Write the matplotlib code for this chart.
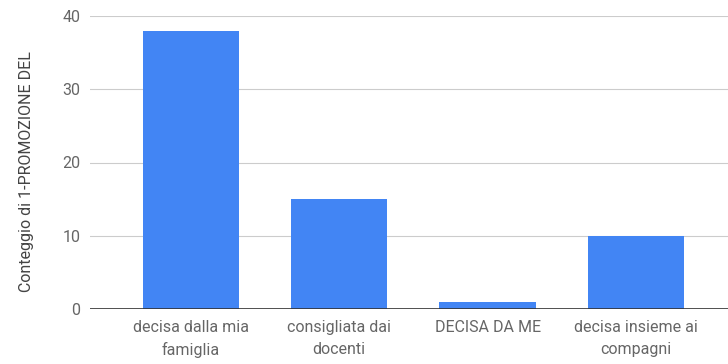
import matplotlib
matplotlib.use("Agg")
import matplotlib.pyplot as plt

categorie = ["decisa dalla mia\nfamiglia", "consigliata dai\ndocenti", "DECISA DA ME", "decisa insieme ai\ncompagni"]
conteggi = [38, 15, 1, 10]
y_ticks = [0, 10, 20, 30, 40]

plt.rcParams['font.family'] = ['Roboto', 'DejaVu Sans']

fig = plt.figure(figsize=(7.28, 3.64), dpi=100)
ax = fig.add_axes([90/728, 1 - 309/364, 1 - 90/728, (309 - 16)/364])

x = range(len(categorie))
ax.bar(x, conteggi, width=0.65, color='#4285F4', zorder=3)

ax.set_ylim(0, 40)
ax.set_xlim(-0.68, 3.62)
ax.set_yticks(y_ticks)
ax.set_xticks(list(x))
ax.set_xticklabels(categorie, fontsize=11.5, color='#666666', linespacing=1.55)
ax.tick_params(axis='y', labelsize=11.5, labelcolor='#666666', length=0, pad=7)
ax.tick_params(axis='x', length=0, pad=8)
ax.grid(axis='y', color='#cccccc', linewidth=0.8, zorder=0)
ax.axhline(0, color='#333333', linewidth=1.2, zorder=4)
for s in ax.spines.values():
    s.set_visible(False)

ax.set_ylabel("Conteggio di 1-PROMOZIONE DEL", fontsize=11.5, color='#444444')
ax.yaxis.set_label_coords(-0.087, 0.47)

fig.savefig("out.png", dpi=100)
